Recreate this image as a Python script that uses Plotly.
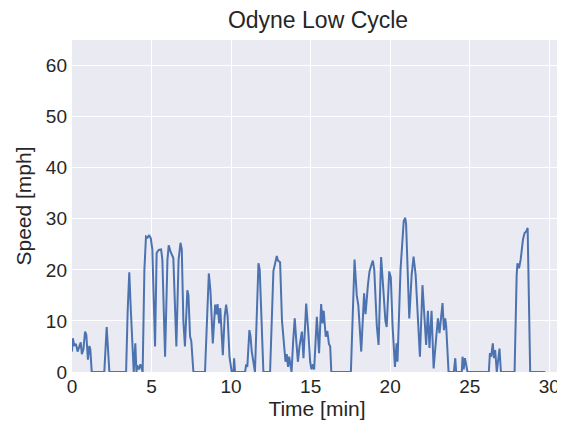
import plotly.graph_objects as go

time_min = [
    0.0, 0.05, 0.15, 0.25, 0.35, 0.45, 0.55, 0.62, 0.72, 0.82, 0.9, 1.0, 1.09, 1.15, 1.24,
    2.03, 2.18, 2.35, 3.4, 3.5, 3.6, 3.7, 3.88, 3.98, 4.05, 4.1, 4.2, 4.3, 4.38, 4.44,
    4.55, 4.65, 4.75, 4.85, 4.95, 5.05, 5.22, 5.32, 5.45, 5.6, 5.68, 5.85, 6.0, 6.08, 6.2,
    6.37, 6.45, 6.56, 6.7, 6.82, 6.9, 7.0, 7.1, 7.25, 7.32, 7.42, 7.5, 7.63, 8.36, 8.5,
    8.6, 8.7, 8.85, 9.0, 9.08, 9.15, 9.25, 9.32, 9.4, 9.48, 9.6, 9.69, 9.78, 9.9, 10.04,
    10.15, 10.19, 10.25, 10.88, 10.95, 11.02, 11.15, 11.22, 11.3, 11.5, 11.6, 11.72, 11.8,
    11.88, 12.03, 12.45, 12.6, 12.66, 12.75, 12.87, 12.95, 13.08, 13.2, 13.35, 13.42, 13.5,
    13.58, 13.65, 13.8, 13.9, 14.0, 14.1, 14.2, 14.3, 14.45, 14.55, 14.62, 14.72, 14.85,
    14.97, 15.05, 15.15, 15.22, 15.3, 15.39, 15.53, 15.66, 15.75, 15.82, 15.95, 16.05,
    16.15, 16.23, 16.3, 17.53, 17.76, 17.9, 18.0, 18.18, 18.36, 18.45, 18.6, 18.7, 18.85,
    18.91, 19.0, 19.16, 19.27, 19.43, 19.55, 19.7, 19.78, 19.94, 20.04, 20.15, 20.3, 20.4,
    20.46, 20.65, 20.85, 20.94, 21.0, 21.2, 21.35, 21.47, 21.6, 21.87, 22.03, 22.15, 22.26,
    22.37, 22.47, 22.6, 22.73, 22.9, 23.0, 23.1, 23.29, 23.38, 23.46, 23.52, 23.67, 24.0,
    24.09, 24.15, 24.5, 24.55, 24.62, 24.7, 24.78, 24.86, 26.2, 26.27, 26.35, 26.45, 26.52,
    26.6, 26.7, 26.87, 26.96, 27.82, 27.95, 28.0, 28.1, 28.2, 28.35, 28.45, 28.55, 28.64,
    28.8, 29.75,
]

speed_mph = [
    4.0, 6.6, 5.1, 5.5, 4.0, 5.0, 5.8, 3.5, 4.5, 7.9, 7.3, 2.4, 5.1, 4.5, 0,
    0, 8.8, 0, 0, 12, 19.5, 12, 0, 5.6, 0, 1.3, 0.5, 1.5, 0.3, 0,
    20, 26.5, 26.3, 26.8, 26.2, 24, 5.0, 23.3, 23.9, 24.0, 22, 3.0, 22, 24.8, 23.5,
    22.3, 15, 5.0, 22, 25.3, 24, 10, 5.0, 16, 15, 7, 6, 0, 0, 14,
    19.3, 16, 5.6, 13.2, 11.3, 13.3, 9.5, 12.5, 8, 3.3, 11, 13.2, 11, 3, 0,
    0, 2.7, 0, 0, 1.5, 1, 8.2, 7, 4, 0, 12, 21.3, 20,
    12, 0, 0, 17, 19.8, 21, 22.7, 21.8, 21.5, 10, 4.6, 2, 3.5,
    1, 3, 0, 6, 10.5, 6, 2, 5, 7.9, 2.7, 8, 13.4, 8,
    2, 0.5, 1.5, 0.5, 6, 10.8, 3.7, 13.3, 9.5, 12, 6.9, 8,
    5.5, 5, 0, 0, 22.0, 15, 13, 4, 15.4, 11.3, 17, 19.7, 21.3,
    21.8, 20, 9, 5.3, 22.5, 17, 10, 8.8, 19.7, 18.5, 9, 1, 5.6,
    2, 20, 29.5, 30.2, 29, 10.5, 19, 22.6, 19, 3.0, 17, 11, 5.3,
    12, 4.7, 12, 0.7, 7, 10.5, 7.6, 13.5, 8.2, 10.5, 9, 0, 0,
    2.7, 0, 0, 3, 0.5, 2.7, 1, 0, 0, 3.7, 3, 5.6, 2.7,
    4.3, 0, 4.6, 0, 0, 19, 21.3, 20.3, 22, 26, 27.2, 27.5, 28.2,
    0, 0,
]

x_ticks = [0, 5, 10, 15, 20, 25, 30]
y_ticks = [0, 10, 20, 30, 40, 50, 60]

fig = go.Figure()
fig.add_trace(go.Scatter(
    x=time_min, y=speed_mph, mode="lines",
    line=dict(color="#4C72B0", width=2),
    showlegend=False,
))

font_family = "Liberation Sans, Arial, sans-serif"
# The page body has an 8px default margin, so the figure is sized to fit the window.
fig.update_layout(
    width=557, height=422,
    margin=dict(l=64, r=3, t=32, b=58, autoexpand=False),
    paper_bgcolor="white",
    plot_bgcolor="#EAEAF2",
    font=dict(family=font_family, color="#262626", size=19),
    title=dict(text="Odyne Low Cycle", x=0.5566, xanchor="center", y=0.9716, yanchor="middle",
               font=dict(size=23, color="#262626")),
    xaxis=dict(
        range=[0, 30.8], tickvals=x_ticks, ticktext=[str(v) for v in x_ticks],
        showgrid=True, gridcolor="white", gridwidth=1.2, zeroline=False,
        showline=False, ticks="", tickfont=dict(size=19), automargin=False,
        ticklabelstandoff=1,
        title=dict(text="Time [min]", font=dict(size=21), standoff=3),
    ),
    yaxis=dict(
        range=[0, 65], tickvals=y_ticks, ticktext=[str(v) for v in y_ticks],
        showgrid=True, gridcolor="white", gridwidth=1.2, zeroline=False,
        showline=False, ticks="", tickfont=dict(size=19), automargin=False,
        ticklabelstandoff=4,
        title=dict(text="Speed [mph]", font=dict(size=21), standoff=8),
    ),
)

fig.write_html("out.html")
